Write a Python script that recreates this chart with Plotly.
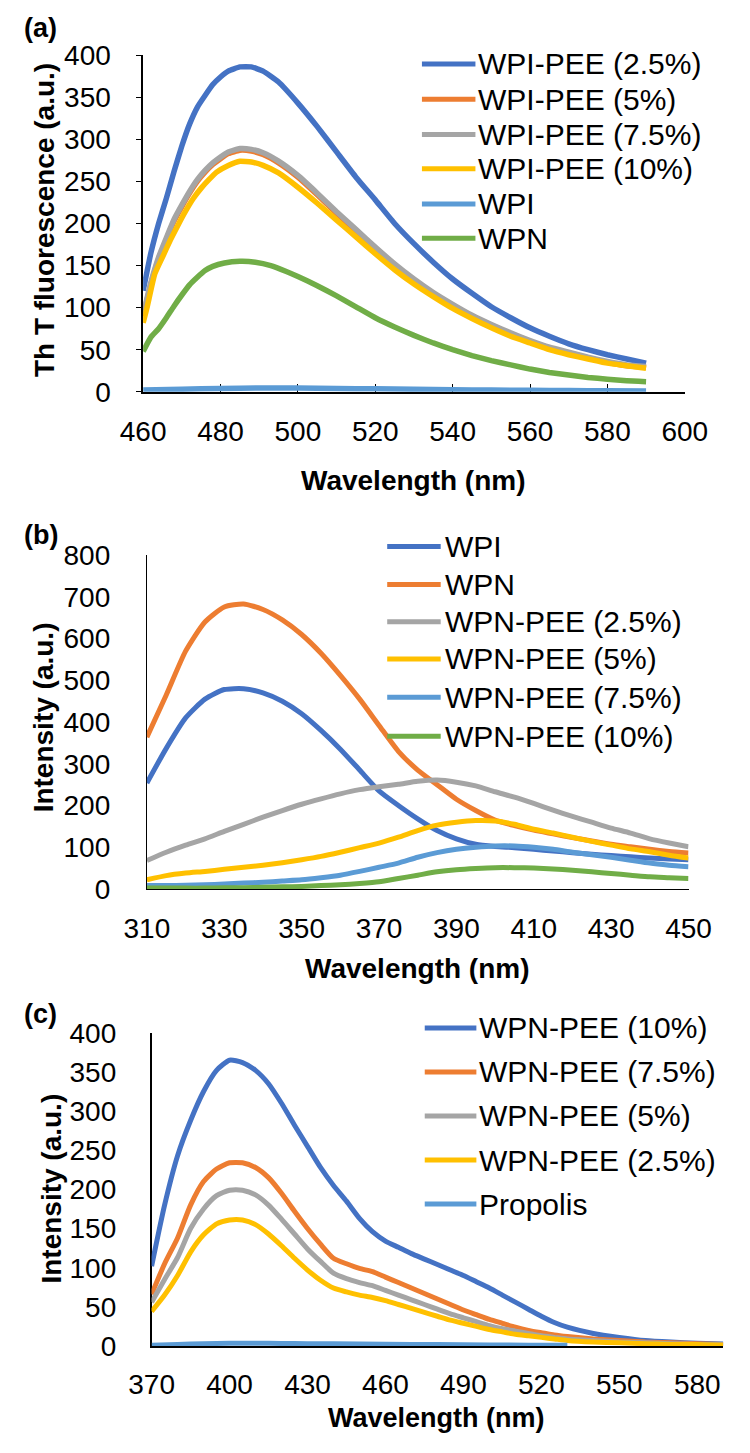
import plotly.graph_objects as go

W, H = 750, 1453
FONT = "Arial, Liberation Sans, sans-serif"

# ---------------- Panel (a) data ----------------
a_names = ["WPI-PEE (2.5%)", "WPI-PEE (5%)", "WPI-PEE (7.5%)", "WPI-PEE (10%)", "WPI", "WPN"]
a_colors = ["#4472C4", "#ED7D31", "#A5A5A5", "#FFC000", "#5B9BD5", "#70AD47"]
a_wl_main = [460, 462, 464, 466, 468, 470, 472, 474, 476, 478, 480, 482, 485, 488, 491, 495, 500, 505,
             510, 515, 520, 525, 530, 535, 540, 545, 550, 555, 560, 565, 570, 575, 580, 585, 590]
a_pee25 = [120, 165, 200, 230, 262, 292, 318, 338, 352, 365, 374, 381, 386, 386, 381, 368, 343, 315,
           285, 255, 228, 200, 176, 154, 134, 117, 101, 88, 76, 66, 57, 50, 44, 39, 34]
a_pee5 = [90, 128, 158, 181, 203, 220, 236, 250, 261, 270, 277, 283, 287, 286, 282, 272, 255, 234,
          212, 191, 170, 150, 132, 116, 102, 90, 79, 69, 60, 52, 46, 40, 35, 31, 29]
a_pee75 = [92, 130, 160, 183, 205, 222, 238, 252, 263, 272, 279, 285, 289, 288, 284, 274, 257, 236,
           214, 193, 172, 152, 134, 118, 104, 91, 80, 70, 61, 53, 47, 41, 36, 32, 30]
a_wl_y = [460, 461, 463, 465, 467, 469, 471, 473, 475, 477, 479, 482, 485, 488, 491, 495, 500, 505,
          510, 515, 520, 525, 530, 535, 540, 545, 550, 555, 560, 565, 570, 575, 580, 585, 590]
a_pee10 = [82, 100, 140, 160, 180, 198, 215, 230, 242, 252, 261, 269, 274, 273, 269, 260, 243, 224,
           204, 184, 164, 145, 128, 113, 99, 87, 76, 66, 58, 50, 44, 39, 34, 31, 28]
a_wl_g = [460, 462, 464, 466, 468, 470, 472, 474, 476, 478, 481, 485, 489, 493, 497, 500, 505,
          510, 515, 520, 525, 530, 535, 540, 545, 550, 555, 560, 565, 570, 575, 580, 585, 590]
a_wpn = [48, 65, 75, 88, 102, 115, 127, 136, 144, 149, 153, 155, 154, 150, 143, 137, 126,
         114, 101, 88, 77, 67, 58, 50, 43, 37, 32, 27, 23, 20, 17, 15, 13, 12]
a_wl_wpi = [460, 470, 480, 490, 500, 510, 520, 530, 540, 550, 560, 570, 580, 590]
a_wpi = [2, 3, 4, 4.5, 4.5, 4, 3.5, 3, 2.5, 2, 1.8, 1.5, 1.2, 1]

# ---------------- Panel (b) data ----------------
b_names = ["WPI", "WPN", "WPN-PEE (2.5%)", "WPN-PEE (5%)", "WPN-PEE (7.5%)", "WPN-PEE (10%)"]
b_colors = ["#4472C4", "#ED7D31", "#A5A5A5", "#FFC000", "#5B9BD5", "#70AD47"]
b_wl = [310, 315, 320, 325, 330, 335, 340, 345, 350, 355, 360, 365, 370, 375, 380, 385, 390, 395,
        400, 405, 410, 415, 420, 425, 430, 435, 440, 445, 450]
b_wpi = [254, 337, 410, 455, 478, 480, 470, 450, 420, 380, 335, 285, 235, 200, 168, 140, 120, 107,
         102, 99, 95, 91, 87, 83, 80, 77, 74, 72, 70]
b_wpn = [364, 465, 570, 640, 676, 683, 670, 645, 610, 565, 512, 455, 392, 330, 285, 250, 215, 188,
         165, 152, 141, 132, 123, 115, 107, 101, 95, 90, 86]
b_pee25 = [68, 88, 105, 120, 138, 155, 172, 188, 203, 216, 228, 238, 245, 251, 258, 261, 256, 247,
           233, 220, 205, 189, 174, 160, 146, 134, 120, 110, 101]
b_pee5 = [22, 32, 38, 42, 47, 52, 57, 63, 70, 78, 88, 99, 110, 124, 140, 153, 160, 164,
          163, 155, 143, 134, 124, 114, 105, 96, 89, 81, 74]
b_pee75 = [8, 8, 9, 10, 12, 14, 16, 19, 22, 27, 33, 42, 52, 62, 76, 87, 95, 100,
           103, 103, 100, 95, 88, 82, 76, 69, 62, 57, 53]
b_pee10 = [2, 2, 2, 2, 3, 3, 4, 5, 6, 8, 10, 13, 17, 25, 33, 41, 46, 49,
           51, 51, 50, 48, 45, 41, 37, 33, 29, 27, 25]

# ---------------- Panel (c) data ----------------
c_names = ["WPN-PEE (10%)", "WPN-PEE (7.5%)", "WPN-PEE (5%)", "WPN-PEE (2.5%)", "Propolis"]
c_colors = ["#4472C4", "#ED7D31", "#A5A5A5", "#FFC000", "#5B9BD5"]
c_wl = [370, 375, 380, 385, 390, 395, 400, 405, 410, 415, 420, 425, 430, 435, 440, 445, 450, 455,
        460, 465, 470, 475, 480, 485, 490, 495, 500, 505, 510, 515, 520, 525, 530, 540, 550, 560,
        570, 580, 590]
c_pee10 = [102, 180, 243, 288, 325, 352, 365, 362, 352, 335, 310, 282, 255, 228, 205, 185, 163, 146,
           134, 126, 118, 111, 104, 97, 90, 82, 74, 65, 56, 47, 38, 30, 24, 16, 11, 7, 5, 3.5, 2.5]
c_pee75 = [66, 105, 138, 180, 210, 226, 234, 234, 228, 215, 195, 172, 150, 130, 112, 105, 99, 95,
           88, 81, 74, 67, 60, 53, 46, 40, 34, 29, 24, 20, 17, 14, 12, 9, 7, 5, 4, 3, 2]
c_pee5 = [56, 85, 113, 150, 175, 192, 199, 199, 193, 180, 162, 143, 124, 108, 93, 86, 81, 77,
          71, 65, 59, 53, 47, 41, 36, 31, 26, 22, 19, 16, 13, 11, 9, 7, 5, 4, 3, 2, 1.5]
c_pee25 = [44, 65, 90, 120, 142, 156, 161, 161, 155, 143, 128, 112, 97, 84, 74, 69, 65, 62,
           58, 53, 48, 43, 38, 33, 29, 25, 21, 18, 15, 13, 11, 9, 7, 5, 4, 3, 2, 2, 1]
c_wl_prop = [370, 380, 390, 400, 410, 420, 430, 440, 460, 480, 500, 515, 530]
c_prop = [1, 2, 3, 3.5, 3.5, 3.2, 3, 2.7, 2.2, 1.8, 1.3, 1, 0.8]


def px_x(x):
    return x / W


def px_y(y):
    return 1 - y / H


fig = go.Figure()

a_series = [(a_wl_main, a_pee25), (a_wl_main, a_pee5), (a_wl_main, a_pee75),
            (a_wl_y, a_pee10), (a_wl_wpi, a_wpi), (a_wl_g, a_wpn)]
for (xs, ys), nm, col in zip(a_series, a_names, a_colors):
    fig.add_trace(go.Scatter(x=xs, y=ys, name=nm, mode="lines",
                             line=dict(color=col, width=5.5, shape="spline", smoothing=0.4),
                             xaxis="x", yaxis="y", showlegend=False))

b_series = [b_wpi, b_wpn, b_pee25, b_pee5, b_pee75, b_pee10]
for ys, nm, col in zip(b_series, b_names, b_colors):
    fig.add_trace(go.Scatter(x=b_wl, y=ys, name=nm, mode="lines",
                             line=dict(color=col, width=5, shape="spline", smoothing=0.6),
                             xaxis="x2", yaxis="y2", showlegend=False))

c_series = [(c_wl, c_pee10), (c_wl, c_pee75), (c_wl, c_pee5), (c_wl, c_pee25), (c_wl_prop, c_prop)]
for (xs, ys), nm, col in zip(c_series, c_names, c_colors):
    fig.add_trace(go.Scatter(x=xs, y=ys, name=nm, mode="lines",
                             line=dict(color=col, width=5, shape="spline", smoothing=0.6),
                             xaxis="x3", yaxis="y3", showlegend=False))

tickfont = dict(family=FONT, size=28, color="#000000")

axis_common = dict(showgrid=False, zeroline=False, showline=True, linecolor="#000000",
                   tickfont=tickfont, layer="below traces", fixedrange=True)

fig.update_layout(
    width=W, height=H,
    margin=dict(l=0, r=0, t=0, b=0),
    paper_bgcolor="white", plot_bgcolor="white",
    showlegend=False,
    xaxis=dict(domain=[px_x(128), px_x(705)], range=[460, 600], tickmode="array",
               tickvals=[460, 480, 500, 520, 540, 560, 580, 600],
               ticks="inside", ticklen=8, tickwidth=1.3, tickcolor="#000000", linewidth=1.5,
               ticklabelstandoff=14, anchor="y", **axis_common),
    yaxis=dict(domain=[px_y(385), px_y(41)], range=[0, 400], tickmode="array",
               tickvals=[0, 50, 100, 150, 200, 250, 300, 350, 400],
               ticks="outside", ticklen=5, tickwidth=1.3, tickcolor="#000000", linewidth=1.5,
               ticklabelstandoff=20, anchor="x", **axis_common),
    xaxis2=dict(domain=[px_x(132), px_x(709)], range=[310, 450], tickmode="array",
                tickvals=[310, 330, 350, 370, 390, 410, 430, 450], ticks="",
                linewidth=1.2, ticklabelstandoff=14, anchor="y2", **axis_common),
    yaxis2=dict(domain=[px_y(893), px_y(552)], range=[0, 800], tickmode="array",
                tickvals=[0, 100, 200, 300, 400, 500, 600, 700, 800], ticks="",
                linewidth=1.2, ticklabelstandoff=30, anchor="x2", **axis_common),
    xaxis3=dict(domain=[px_x(137), px_x(746)], range=[370, 590], tickmode="array",
                tickvals=[370, 400, 430, 460, 490, 520, 550, 580], ticks="",
                linewidth=1.5, ticklabelstandoff=13, anchor="y3", **axis_common),
    yaxis3=dict(domain=[px_y(1360), px_y(1040)], range=[0, 400], tickmode="array",
                tickvals=[0, 50, 100, 150, 200, 250, 300, 350, 400], ticks="",
                linewidth=1.5, ticklabelstandoff=28, anchor="x3", **axis_common),
)

annotations = []
shapes = []


def label(text, x, y, size=28, bold=True, angle=0, xanchor="center"):
    t = "<b>%s</b>" % text if bold else text
    annotations.append(dict(text=t, x=px_x(x), y=px_y(y), xref="paper", yref="paper",
                            showarrow=False, textangle=angle, xanchor=xanchor, yanchor="middle",
                            borderpad=0,
                            font=dict(family=FONT, size=size, color="#000000")))


# panel labels
label("(a)", 0, 13, size=27, xanchor="left")
label("(b)", 0, 531, size=27, xanchor="left")
label("(c)", 0, 1021, size=27, xanchor="left")

# axis titles
label("Wavelength (nm)", 416, 476)
label("Wavelength (nm)", 420, 974)
label("Wavelength (nm)", 441, 1434, size=27)
label("Th T fluorescence (a.u.)", 23, 210, angle=-90)
label("Intensity (a.u.)", 22, 718, angle=-90)
label("Intensity (a.u.)", 30, 1199, angle=-90)


def legend(names, colors, x0, x1, xt, ys):
    for nm, col, yy in zip(names, colors, ys):
        shapes.append(dict(type="line", xref="paper", yref="paper",
                           x0=px_x(x0), x1=px_x(x1), y0=px_y(yy), y1=px_y(yy),
                           line=dict(color=col, width=5)))
        annotations.append(dict(text=nm, x=px_x(xt), y=px_y(yy), xref="paper", yref="paper",
                                showarrow=False, xanchor="left", yanchor="middle", borderpad=0,
                                font=dict(family=FONT, size=30, color="#000000")))


legend(a_names, a_colors, 425, 482, 484, [50, 86, 122, 157, 193, 228])
legend(b_names, b_colors, 388, 445, 448, [543, 582, 620, 658, 697, 737])
legend(c_names, c_colors, 428, 483, 485, [1035, 1080, 1125, 1170, 1215])

fig.update_layout(annotations=annotations, shapes=shapes)

fig.write_html("out.html")
